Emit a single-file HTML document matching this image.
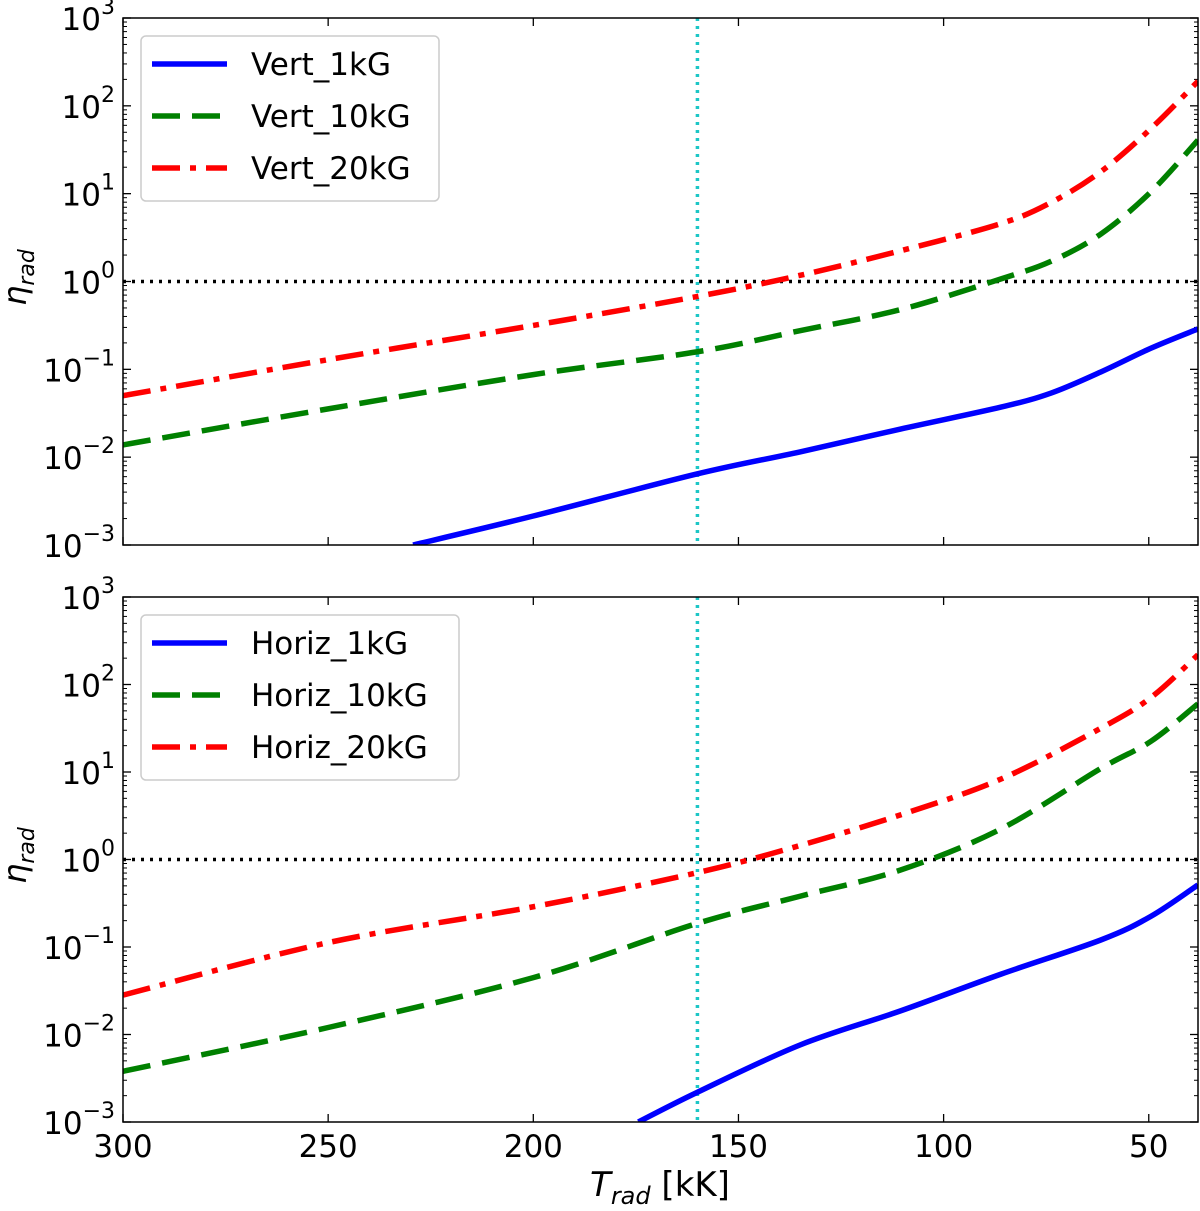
<!DOCTYPE html>
<html><head><meta charset="utf-8"><style>
body{margin:0;background:#fff}
svg text{font-family:"DejaVu Sans","Liberation Sans",sans-serif;fill:#000}
</style></head><body>
<svg id="chart" width="1200" height="1206" xmlns="http://www.w3.org/2000/svg"></svg>
<script>
const xTickLabels=[300,250,200,150,100,50];
const yTickExps=[-3,-2,-1,0,1,2,3];
// top panel data (T in kK, log10 eta)
const topT20=[300,250,200,160,135,110.5,86,73.8,61.7,49.5,38];
const topV20=[-1.30,-0.89,-0.50,-0.17,0.07,0.35,0.66,0.9,1.25,1.74,2.28];
const topT10=[300,250,200,160,135,110.5,86,73.8,61.7,49.5,38];
const topV10=[-1.86,-1.45,-1.06,-0.8,-0.56,-0.32,0.03,0.23,0.54,1.02,1.61];
const topT1=[229.3,200,160,135,110.5,86,73.8,61.7,49.5,38];
const topV1=[-3,-2.67,-2.19,-1.94,-1.68,-1.43,-1.27,-1.03,-0.76,-0.54];
// bottom panel
const botT20=[300,250,200,160,135,110.5,86,61.7,49.5,38];
const botV20=[-1.55,-0.95,-0.54,-0.15,0.16,0.51,0.92,1.5,1.85,2.34];
const botT10=[300,250,200,160,135,110.5,86,61.7,49.5,38];
const botV10=[-2.42,-1.92,-1.35,-0.73,-0.42,-0.12,0.35,1.04,1.35,1.78];
const botT1=[174.4,160,135,110.5,86,61.7,49.5,38];
const botV1=[-3,-2.66,-2.12,-1.73,-1.31,-0.92,-0.65,-0.29];
const vLineT=160;

const svg=document.getElementById('chart');
const NS='http://www.w3.org/2000/svg';
function mk(tag,attrs,parent){const e=document.createElementNS(NS,tag);for(const k in attrs)e.setAttribute(k,attrs[k]);(parent||svg).appendChild(e);return e;}
const L=123,R=1198;
const xS=t=>L+(300-t)*(R-L)/(300-38);
function smooth(pts){
  let d='M'+pts[0][0]+','+pts[0][1];
  for(let i=0;i<pts.length-1;i++){
    const p0=pts[Math.max(i-1,0)],p1=pts[i],p2=pts[i+1],p3=pts[Math.min(i+2,pts.length-1)];
    const c1=[p1[0]+(p2[0]-p0[0])/6,p1[1]+(p2[1]-p0[1])/6];
    const c2=[p2[0]-(p3[0]-p1[0])/6,p2[1]-(p3[1]-p1[1])/6];
    d+=' C'+c1[0]+','+c1[1]+' '+c2[0]+','+c2[1]+' '+p2[0]+','+p2[1];
  }
  return d;
}
function panel(top,bottom,name,series,labels,legW,showX){
  const yS=v=>bottom-(v+3)*(bottom-top)/6;
  const g=mk('g',{});
  
  
  const cid='clip'+name;
  const cp=mk('clipPath',{id:cid},g);mk('rect',{x:L,y:top,width:R-L,height:bottom-top},cp);
  for(let e=-3;e<3;e++)for(let m=2;m<10;m++){const y=yS(e+Math.log10(m));
    mk('line',{x1:L,x2:L+4,y1:y,y2:y,stroke:'#000','stroke-width':1},g);
    mk('line',{x1:R,x2:R-4,y1:y,y2:y,stroke:'#000','stroke-width':1},g);}
  yTickExps.forEach(e=>{const y=yS(e);
    mk('line',{x1:L,x2:L+8,y1:y,y2:y,stroke:'#000','stroke-width':1.3},g);
    mk('line',{x1:R,x2:R-8,y1:y,y2:y,stroke:'#000','stroke-width':1.3},g);
    const t=mk('text',{x:L-8,y:y+12,'font-size':31,'text-anchor':'end'},g);
    
    
    t.textContent='10';const s=mk('tspan',{dy:-16,'font-size':22},t);s.textContent=(e<0?'−':'')+Math.abs(e);});
  xTickLabels.forEach(v=>{const x=xS(v);mk('line',{x1:x,x2:x,y1:bottom,y2:bottom-8,stroke:'#000','stroke-width':1.3},g);mk('line',{x1:x,x2:x,y1:top,y2:top+8,stroke:'#000','stroke-width':1.3},g);
    if(showX){const t=mk('text',{x:x,y:bottom+35,'font-size':31,'text-anchor':'middle'},g);
      
      
      t.textContent=v;}});
  const hl=mk('line',{x1:L,x2:R,y1:yS(0),y2:yS(0),stroke:'#000','stroke-width':3.5,'stroke-dasharray':'3 6'},g);
  
  
  const vl=mk('line',{x1:xS(vLineT),x2:xS(vLineT),y1:top,y2:bottom,stroke:'#1cc6c6','stroke-width':3.5,'stroke-dasharray':'3 5'},g);
  
  
  const styles=[{c:'#0000ff',d:''},{c:'#008000',d:'28 12'},{c:'#ff0000',d:'28 10 6 10'}];
  series.forEach((s,i)=>{const p=mk('path',{d:smooth(s[0].map((t,j)=>[xS(t),yS(s[1][j])])),fill:'none',stroke:styles[i].c,'stroke-width':5.5,'stroke-dasharray':styles[i].d,'clip-path':'url(#'+cid+')'},g);
    
    });
  mk('rect',{x:L,y:top,width:R-L,height:bottom-top,fill:'none',stroke:'#000','stroke-width':1.5},g);
  const lg=mk('g',{},g);
  
  
  mk('rect',{x:141,y:top+18,width:legW,height:165,rx:5,fill:'#fff',stroke:'#ccc','stroke-width':1.5},lg);
  labels.forEach((lb,i)=>{const y=top+46+i*52;mk('line',{x1:152,x2:227,y1:y,y2:y,stroke:styles[i].c,'stroke-width':5.5,'stroke-dasharray':styles[i].d},lg);
    const t=mk('text',{x:251,y:y+11,'font-size':31},lg);
    
    
    t.textContent=lb;});
  const yl=mk('text',{x:0,y:0,'font-size':32,'font-style':'italic',transform:'translate(26,'+((top+bottom)/2-4)+') rotate(-90)','text-anchor':'middle'},g);
  
  
  yl.textContent='η';const sb=mk('tspan',{dy:8,'font-size':22},yl);sb.textContent='rad';
}
panel(18,545,'top-panel',[[topT1,topV1],[topT10,topV10],[topT20,topV20]],['Vert_1kG','Vert_10kG','Vert_20kG'],298,false);
panel(597,1122,'bottom-panel',[[botT1,botV1],[botT10,botV10],[botT20,botV20]],['Horiz_1kG','Horiz_10kG','Horiz_20kG'],318,true);
const xt=mk('text',{x:660,y:1196,'font-size':34,'text-anchor':'middle'});


const i1=mk('tspan',{'font-style':'italic'},xt);i1.textContent='T';
const i2=mk('tspan',{'font-style':'italic','font-size':24,dy:8},xt);i2.textContent='rad';
const i3=mk('tspan',{dy:-8},xt);i3.textContent=' [kK]';
</script>
</body></html>
